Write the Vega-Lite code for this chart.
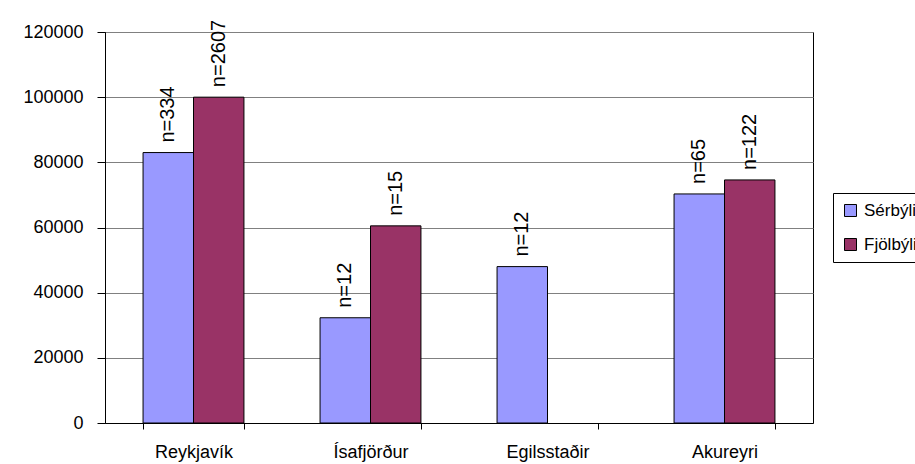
{
  "$schema": "https://vega.github.io/schema/vega-lite/v6.json",
  "autosize": {"type": "none"},
  "padding": {"left": 105, "top": 32, "right": 102, "bottom": 41},
  "width": 708,
  "height": 391,
  "background": "white",
  "config": {
    "view": {"stroke": "black", "strokeWidth": 1},
    "font": "Liberation Sans"
  },
  "data": {
    "values": [
      {"city": "Reykjavík", "type": "Sérbýli", "value": 83000, "n": "n=334"},
      {"city": "Reykjavík", "type": "Fjölbýli", "value": 100000, "n": "n=2607"},
      {"city": "Ísafjörður", "type": "Sérbýli", "value": 32300, "n": "n=12"},
      {"city": "Ísafjörður", "type": "Fjölbýli", "value": 60500, "n": "n=15"},
      {"city": "Egilsstaðir", "type": "Sérbýli", "value": 48000, "n": "n=12"},
      {"city": "Akureyri", "type": "Sérbýli", "value": 70300, "n": "n=65"},
      {"city": "Akureyri", "type": "Fjölbýli", "value": 74600, "n": "n=122"}
    ]
  },
  "encoding": {
    "x": {
      "field": "city",
      "type": "nominal",
      "sort": ["Reykjavík", "Ísafjörður", "Egilsstaðir", "Akureyri"],
      "scale": {"paddingInner": 0.43, "paddingOuter": 0.215},
      "axis": {
        "title": null,
        "labelAngle": 0,
        "labelFontSize": 18,
        "labelColor": "black",
        "labelPadding": 14,
        "tickBand": "extent",
        "tickSize": 6,
        "tickColor": "black",
        "domainColor": "black",
        "grid": false
      }
    },
    "xOffset": {
      "field": "type",
      "type": "nominal",
      "sort": ["Sérbýli", "Fjölbýli"],
      "scale": {"paddingInner": 0, "paddingOuter": 0}
    },
    "y": {
      "field": "value",
      "type": "quantitative",
      "scale": {"domain": [0, 120000], "nice": false},
      "axis": {
        "title": null,
        "values": [0, 20000, 40000, 60000, 80000, 100000, 120000],
        "format": "d",
        "labelFontSize": 18,
        "labelColor": "black",
        "labelPadding": 14,
        "tickSize": 8,
        "tickColor": "black",
        "domainColor": "black",
        "grid": true,
        "gridColor": "#808080",
        "gridWidth": 1
      }
    }
  },
  "layer": [
    {
      "mark": {"type": "bar", "stroke": "black", "strokeWidth": 1},
      "encoding": {
        "color": {
          "field": "type",
          "type": "nominal",
          "sort": ["Sérbýli", "Fjölbýli"],
          "scale": {"domain": ["Sérbýli", "Fjölbýli"], "range": ["#9999FF", "#993366"]},
          "legend": {
            "title": null,
            "orient": "none",
            "legendX": 728,
            "legendY": 161,
            "direction": "vertical",
            "fillColor": "white",
            "strokeColor": "black",
            "padding": 9,
            "rowPadding": 16,
            "symbolType": "square",
            "symbolSize": 144,
            "symbolStrokeColor": "black",
            "symbolStrokeWidth": 1,
            "symbolOpacity": 1,
            "labelFontSize": 17,
            "labelColor": "black",
            "labelOffset": 5
          }
        }
      }
    },
    {
      "mark": {"type": "text", "angle": 270, "align": "left", "baseline": "middle", "dx": 10, "fontSize": 20, "color": "black"},
      "encoding": {
        "text": {"field": "n"}
      }
    }
  ]
}
